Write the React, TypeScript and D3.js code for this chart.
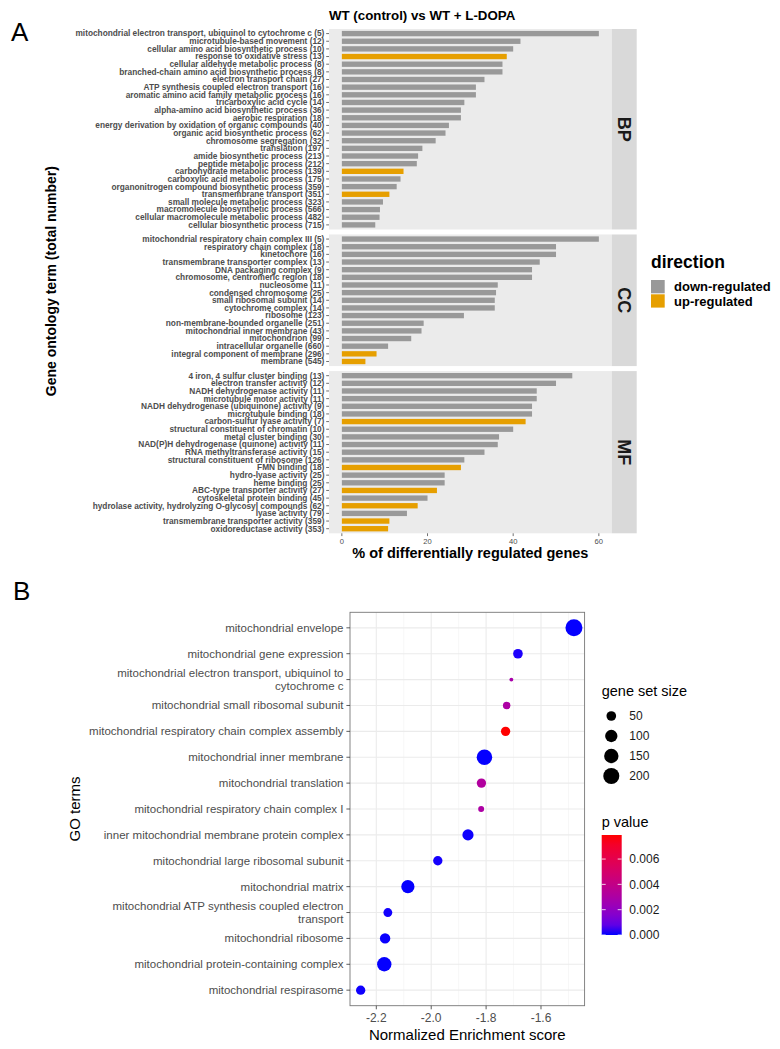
import React from 'react';
import * as d3 from 'd3';

// ---------- Panel A: % of differentially regulated genes per GO term ----------
const bpTerms = [
  'mitochondrial electron transport, ubiquinol to cytochrome c (5)',
  'microtubule-based movement (12)',
  'cellular amino acid biosynthetic process (10)',
  'response to oxidative stress (13)',
  'cellular aldehyde metabolic process (8)',
  'branched-chain amino acid biosynthetic process (8)',
  'electron transport chain (27)',
  'ATP synthesis coupled electron transport (16)',
  'aromatic amino acid family metabolic process (16)',
  'tricarboxylic acid cycle (14)',
  'alpha-amino acid biosynthetic process (36)',
  'aerobic respiration (18)',
  'energy derivation by oxidation of organic compounds (40)',
  'organic acid biosynthetic process (62)',
  'chromosome segregation (32)',
  'translation (197)',
  'amide biosynthetic process (213)',
  'peptide metabolic process (212)',
  'carbohydrate metabolic process (139)',
  'carboxylic acid metabolic process (175)',
  'organonitrogen compound biosynthetic process (359)',
  'transmembrane transport (351)',
  'small molecule metabolic process (323)',
  'macromolecule biosynthetic process (566)',
  'cellular macromolecule metabolic process (482)',
  'cellular biosynthetic process (715)',
];
const bpPercent = [60.0, 41.7, 40.0, 38.5, 37.5, 37.5, 33.3, 31.3, 31.3, 28.6, 27.8, 27.8, 25.0, 24.2, 21.9, 18.8, 17.8, 17.5, 14.4, 13.7, 12.8, 11.1, 9.6, 8.9, 8.8, 7.8];
const bpDirection = ['down', 'down', 'down', 'up', 'down', 'down', 'down', 'down', 'down', 'down', 'down', 'down', 'down', 'down', 'down', 'down', 'down', 'down', 'up', 'down', 'down', 'up', 'down', 'down', 'down', 'down'];

const ccTerms = [
  'mitochondrial respiratory chain complex III (5)',
  'respiratory chain complex (18)',
  'kinetochore (16)',
  'transmembrane transporter complex (13)',
  'DNA packaging complex (9)',
  'chromosome, centromeric region (18)',
  'nucleosome (11)',
  'condensed chromosome (25)',
  'small ribosomal subunit (14)',
  'cytochrome complex (14)',
  'ribosome (123)',
  'non-membrane-bounded organelle (251)',
  'mitochondrial inner membrane (43)',
  'mitochondrion (99)',
  'intracellular organelle (660)',
  'integral component of membrane (296)',
  'membrane (545)',
];
const ccPercent = [60.0, 50.0, 50.0, 46.2, 44.4, 44.4, 36.4, 36.0, 35.7, 35.7, 28.5, 19.1, 18.6, 16.2, 10.8, 8.1, 5.5];
const ccDirection = ['down', 'down', 'down', 'down', 'down', 'down', 'down', 'down', 'down', 'down', 'down', 'down', 'down', 'down', 'down', 'up', 'up'];

const mfTerms = [
  '4 iron, 4 sulfur cluster binding (13)',
  'electron transfer activity (12)',
  'NADH dehydrogenase activity (11)',
  'microtubule motor activity (11)',
  'NADH dehydrogenase (ubiquinone) activity (9)',
  'microtubule binding (18)',
  'carbon-sulfur lyase activity (7)',
  'structural constituent of chromatin (10)',
  'metal cluster binding (30)',
  'NAD(P)H dehydrogenase (quinone) activity (11)',
  'RNA methyltransferase activity (15)',
  'structural constituent of ribosome (126)',
  'FMN binding (18)',
  'hydro-lyase activity (25)',
  'heme binding (25)',
  'ABC-type transporter activity (27)',
  'cytoskeletal protein binding (45)',
  'hydrolase activity, hydrolyzing O-glycosyl compounds (62)',
  'lyase activity (79)',
  'transmembrane transporter activity (359)',
  'oxidoreductase activity (353)',
];
const mfPercent = [53.8, 50.0, 45.5, 45.5, 44.4, 44.4, 42.9, 40.0, 36.7, 36.4, 33.3, 28.6, 27.8, 24.0, 24.0, 22.2, 20.0, 17.7, 15.2, 11.1, 10.8];
const mfDirection = ['down', 'down', 'down', 'down', 'down', 'down', 'up', 'down', 'down', 'down', 'down', 'down', 'up', 'down', 'down', 'up', 'down', 'up', 'down', 'up', 'up'];

const xTicksA = [0, 20, 40, 60];
const directionLabels = ['down-regulated', 'up-regulated'];

// ---------- Panel B: GSEA dot plot ----------
const goTerms = [
  'mitochondrial envelope',
  'mitochondrial gene expression',
  'mitochondrial electron transport, ubiquinol to\ncytochrome c',
  'mitochondrial small ribosomal subunit',
  'mitochondrial respiratory chain complex assembly',
  'mitochondrial inner membrane',
  'mitochondrial translation',
  'mitochondrial respiratory chain complex I',
  'inner mitochondrial membrane protein complex',
  'mitochondrial large ribosomal subunit',
  'mitochondrial matrix',
  'mitochondrial ATP synthesis coupled electron\ntransport',
  'mitochondrial ribosome',
  'mitochondrial protein-containing complex',
  'mitochondrial respirasome',
];
const nes = [-1.48, -1.684, -1.708, -1.725, -1.729, -1.806, -1.817, -1.818, -1.866, -1.976, -2.085, -2.158, -2.168, -2.171, -2.257];
const setSize = [231, 50, 6, 24, 45, 183, 45, 12, 76, 45, 121, 39, 62, 150, 45];
const pValue = [0.00001, 0.00008, 0.0028, 0.003, 0.0079, 0.00001, 0.0032, 0.003, 0.00003, 0.00005, 0.00001, 0.00004, 0.00002, 0.00001, 0.00003];

const xTicksB = [-2.2, -2.0, -1.8, -1.6];
const xMinorB = [-2.1, -1.9, -1.7, -1.5];
const sizeBreaks = [50, 100, 150, 200];
const pBreaks = [0, 0.002, 0.004, 0.006];

const FONT = "'Liberation Sans', Arial, Helvetica, sans-serif";
const GREY = '#999999';
const ORANGE = '#E69F00';

const App: React.FC = () => {
  // ----- panel A layout -----
  const aLeft = 329;
  const aRight = 611.7;
  const stripW = 25;
  const aTop = 29;
  const aBottom = 533.3;
  const facetGap = 5;

  const facets = [
    { name: 'BP', terms: bpTerms, values: bpPercent, dirs: bpDirection },
    { name: 'CC', terms: ccTerms, values: ccPercent, dirs: ccDirection },
    { name: 'MF', terms: mfTerms, values: mfPercent, dirs: mfDirection },
  ];
  const units = facets.map(f => f.terms.length - 1 + 1.2);
  const unitPx = (aBottom - aTop - facetGap * (facets.length - 1)) / d3.sum(units);
  let cursor = aTop;
  const panelsA = facets.map((f, i) => {
    const h = units[i] * unitPx;
    const y0 = cursor;
    cursor += h + facetGap;
    const y = d3.scalePoint<string>().domain(f.terms).range([y0, y0 + h]).padding(0.6);
    return { ...f, y0, h, y };
  });
  const xA = d3.scaleLinear().domain([-3, 63]).range([aLeft, aRight]);
  const barH = unitPx * 0.7;
  const fillDir = (d: string) => (d === 'up' ? ORANGE : GREY);

  // ----- panel B layout -----
  const bLeft = 350;
  const bRight = 584.6;
  const bTop = 612.3;
  const bBottom = 1005.7;
  const [nMin, nMax] = d3.extent(nes) as [number, number];
  const pad = (nMax - nMin) * 0.05;
  const xB = d3.scaleLinear().domain([nMin - pad, nMax + pad]).range([bLeft, bRight]);
  const yB = d3.scalePoint<string>().domain(goTerms).range([bTop, bBottom]).padding(0.6);
  const [sMin, sMax] = d3.extent(setSize) as [number, number];
  const sizeNorm = d3.scaleLinear().domain([sMin, sMax]).range([0, 1]);
  const radius = d3.scaleLinear().domain([0, 1]).range([1.92, 8.5]);
  const r = (v: number) => radius(Math.sqrt(Math.max(0, sizeNorm(v))));
  const pMax = d3.max(pValue) as number;
  const colour = d3.scaleLinear<string>().domain([0, pMax]).range(['#0000ff', '#ff0000']).interpolate(d3.interpolateLab);
  const cbTop = 835;
  const cbBottom = 935;
  const cbY = d3.scaleLinear().domain([0, pMax]).range([cbBottom, cbTop]);
  const gradStops = d3.range(0, 1.0001, 0.1);

  return (
    <svg width={780} height={1049} style={{ position: 'absolute', left: 0, top: 0, background: '#fff' }} fontFamily={FONT}>
      <defs>
        <linearGradient id="pgrad" x1="0" y1="1" x2="0" y2="0">
          {gradStops.map(t => (
            <stop key={t} offset={t} stopColor={colour(t * pMax)} />
          ))}
        </linearGradient>
      </defs>
      <rect width={780} height={1049} fill="#fff" />

      {/* ===== Panel A ===== */}
      <text x={11} y={41} fontSize={26} fill="#000">A</text>
      <text x={329} y={20} fontSize={13.3} fontWeight="bold" fill="#000">WT (control) vs WT + L-DOPA</text>

      {panelsA.map(p => (
        <g key={p.name}>
          <rect x={aLeft} y={p.y0} width={aRight - aLeft} height={p.h} fill="#ebebeb" />
          {p.terms.map((t, i) => (
            <g key={t}>
              <rect
                x={xA(0)}
                y={(p.y(t) as number) - barH / 2}
                width={xA(p.values[i]) - xA(0)}
                height={barH}
                fill={fillDir(p.dirs[i])}
              />
              <line x1={aLeft - 2.8} x2={aLeft} y1={p.y(t)} y2={p.y(t)} stroke="#333" strokeWidth={0.7} />
              <text
                x={aLeft - 4.6}
                y={p.y(t)}
                dy="0.35em"
                textAnchor="end"
                fontSize={8.3}
                fontWeight="bold"
                fill="#4d4d4d"
              >
                {t}
              </text>
            </g>
          ))}
          <rect x={aRight} y={p.y0} width={stripW} height={p.h} fill="#d9d9d9" />
          <text
            transform={`translate(${aRight + stripW / 2},${p.y0 + p.h / 2}) rotate(90)`}
            textAnchor="middle"
            dy="0.35em"
            fontSize={18}
            fontWeight="bold"
            fill="#1a1a1a"
          >
            {p.name}
          </text>
        </g>
      ))}

      {xTicksA.map(v => (
        <g key={v}>
          <line x1={xA(v)} x2={xA(v)} y1={aBottom} y2={aBottom + 2.8} stroke="#333" strokeWidth={0.7} />
          <text x={xA(v)} y={aBottom + 10.3} textAnchor="middle" fontSize={7.6} fill="#4d4d4d">{v}</text>
        </g>
      ))}
      <text x={(aLeft + aRight) / 2} y={558} textAnchor="middle" fontSize={14.5} fontWeight="bold" fill="#000">
        % of differentially regulated genes
      </text>
      <text
        transform={`translate(56,${(aTop + aBottom) / 2}) rotate(-90)`}
        textAnchor="middle"
        fontSize={14}
        fontWeight="bold"
        fill="#000"
      >
        Gene ontology term (total number)
      </text>

      {/* legend A */}
      <text x={651} y={268} fontSize={17.5} fontWeight="bold" fill="#000">direction</text>
      {directionLabels.map((lab, i) => (
        <g key={lab}>
          <rect x={651} y={280 + i * 14.3} width={13.7} height={13.3} fill={i === 0 ? GREY : ORANGE} />
          <text x={674} y={286.7 + i * 14.3} dy="0.35em" fontSize={13} fontWeight="bold" fill="#000">{lab}</text>
        </g>
      ))}

      {/* ===== Panel B ===== */}
      <text x={13} y={600} fontSize={26} fill="#000">B</text>
      <rect x={bLeft} y={bTop} width={bRight - bLeft} height={bBottom - bTop} fill="#fff" />
      {xMinorB.map(v => (
        <line key={v} x1={xB(v)} x2={xB(v)} y1={bTop} y2={bBottom} stroke="#f2f2f2" strokeWidth={0.6} />
      ))}
      {xTicksB.map(v => (
        <line key={v} x1={xB(v)} x2={xB(v)} y1={bTop} y2={bBottom} stroke="#ebebeb" strokeWidth={1.1} />
      ))}
      {goTerms.map(t => (
        <line key={t} x1={bLeft} x2={bRight} y1={yB(t)} y2={yB(t)} stroke="#ebebeb" strokeWidth={1.1} />
      ))}
      {goTerms.map((t, i) => (
        <circle key={t} cx={xB(nes[i])} cy={yB(t)} r={r(setSize[i])} fill={colour(pValue[i])} />
      ))}
      <rect x={bLeft} y={bTop} width={bRight - bLeft} height={bBottom - bTop} fill="none" stroke="#777" strokeWidth={0.9} />

      {goTerms.map(t => {
        const lines = t.split('\n');
        const cy = yB(t) as number;
        const lh = 12.7;
        return (
          <g key={t}>
            <line x1={bLeft - 3.6} x2={bLeft} y1={cy} y2={cy} stroke="#333" strokeWidth={0.8} />
            {lines.map((ln, j) => (
              <text
                key={j}
                x={bLeft - 6.5}
                y={cy + (j - (lines.length - 1) / 2) * lh}
                dy="0.35em"
                textAnchor="end"
                fontSize={11.5}
                fill="#4d4d4d"
              >
                {ln}
              </text>
            ))}
          </g>
        );
      })}
      {xTicksB.map(v => (
        <g key={v}>
          <line x1={xB(v)} x2={xB(v)} y1={bBottom} y2={bBottom + 3.6} stroke="#333" strokeWidth={0.8} />
          <text x={xB(v)} y={bBottom + 16.5} textAnchor="middle" fontSize={12} fill="#4d4d4d">{v.toFixed(1)}</text>
        </g>
      ))}
      <text x={(bLeft + bRight) / 2} y={1040} textAnchor="middle" fontSize={15} fill="#000">
        Normalized Enrichment score
      </text>
      <text transform={`translate(80,${(bTop + bBottom) / 2}) rotate(-90)`} textAnchor="middle" fontSize={15} fill="#000">
        GO terms
      </text>

      {/* legend B: size */}
      <text x={601.7} y={696} fontSize={14.5} fill="#000">gene set size</text>
      {sizeBreaks.map((s, i) => (
        <g key={s}>
          <circle cx={611.3} cy={716 + i * 20} r={r(s)} fill="#000" />
          <text x={629.3} y={716 + i * 20} dy="0.35em" fontSize={12} fill="#1a1a1a">{s}</text>
        </g>
      ))}

      {/* legend B: colour */}
      <text x={601.7} y={827} fontSize={14.5} fill="#000">p value</text>
      <rect x={601.7} y={cbTop} width={20} height={cbBottom - cbTop} fill="url(#pgrad)" />
      {pBreaks.map(v => (
        <g key={v}>
          <line x1={601.7} x2={605.7} y1={cbY(v)} y2={cbY(v)} stroke="#fff" strokeWidth={0.8} />
          <line x1={617.7} x2={621.7} y1={cbY(v)} y2={cbY(v)} stroke="#fff" strokeWidth={0.8} />
          <text x={629.3} y={cbY(v)} dy="0.35em" fontSize={12} fill="#1a1a1a">{v.toFixed(3)}</text>
        </g>
      ))}
    </svg>
  );
};

export default App;
